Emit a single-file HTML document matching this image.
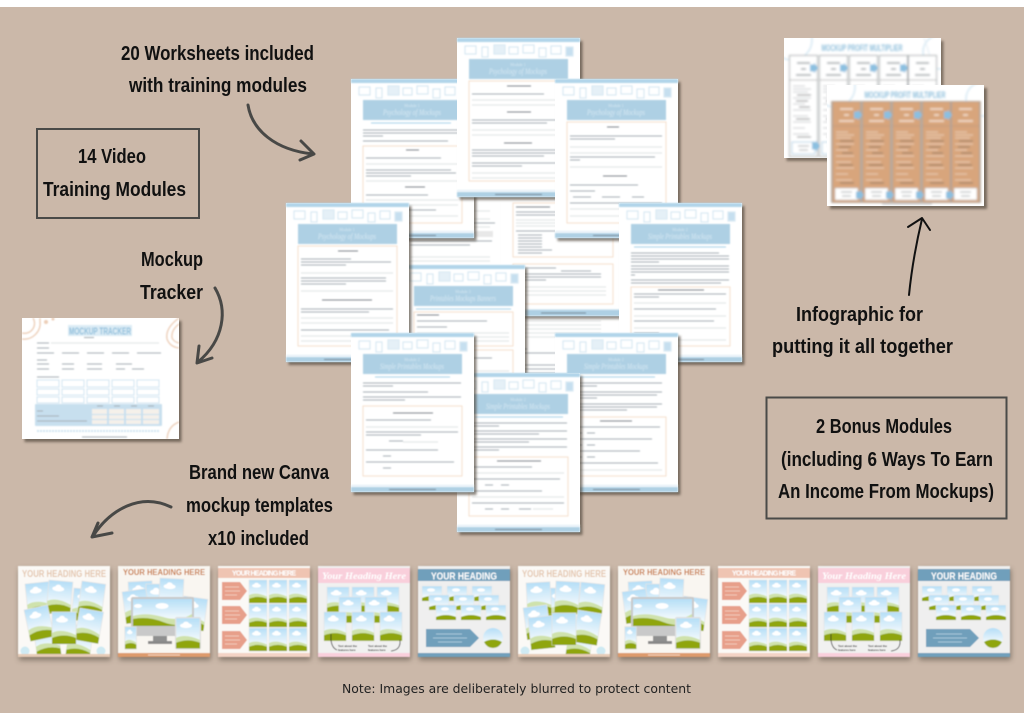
<!DOCTYPE html>
<html lang="en"><head><meta charset="utf-8"><title>Mockup course contents</title>
<style>
html,body{margin:0;padding:0;background:#fff}
svg{display:block}
.hw{font-family:"Liberation Sans",sans-serif;font-weight:700;font-size:20px;fill:#111}
.t{stroke:#a3acb2;stroke-width:1;fill:none}
.r{stroke:#dfe2e3;stroke-width:.9;fill:none}
.k{stroke:#7d848a;stroke-width:1.1;fill:none}
.u{stroke:#a6d1ea;stroke-width:1;fill:none}
.b{fill:none;stroke:#f5dfcc;stroke-width:1}
.hd{font-family:"Liberation Sans",sans-serif;font-weight:700}
</style></head><body>
<svg width="1024" height="720" viewBox="0 0 1024 720" xmlns="http://www.w3.org/2000/svg">
<defs>
<filter id="b" x="-5%" y="-5%" width="110%" height="110%"><feGaussianBlur stdDeviation=".7"/></filter>
<filter id="b1" x="-10%" y="-10%" width="120%" height="120%"><feGaussianBlur stdDeviation=".45"/></filter>
<filter id="b2" x="-10%" y="-10%" width="120%" height="120%"><feGaussianBlur stdDeviation="1.3"/></filter>
<filter id="b3" x="-15%" y="-15%" width="130%" height="130%"><feGaussianBlur stdDeviation="2.6"/></filter>
<filter id="b4" x="-5%" y="-5%" width="110%" height="110%"><feGaussianBlur stdDeviation="1"/></filter>
<clipPath id="cl1"><rect width="157" height="120"/></clipPath>
<clipPath id="cl2"><rect width="157" height="121"/></clipPath>
<clipPath id="cl3"><rect width="92" height="91"/></clipPath>
<linearGradient id="sky" x1="0" y1="0" x2="0" y2="1"><stop offset="0" stop-color="#b5def7"/><stop offset=".72" stop-color="#f2f9fc"/></linearGradient>

<g id="s">
<rect x="2.5" y="3" width="123" height="159" fill="#4a4036" opacity=".65" filter="url(#b2)"/>
<rect width="123" height="159" fill="#fff"/>
<g filter="url(#b)">
<rect width="123" height="4" fill="#b0d4e9"/>
<g fill="none" stroke="#d9e9f3" stroke-width="1.2">
<rect x="8" y="8" width="11" height="8"/><rect x="25" y="9" width="6" height="10"/><rect x="37" y="7" width="11" height="9" fill="#e5f0f7"/><rect x="52" y="9" width="9" height="7"/><rect x="66" y="7" width="11" height="8"/><rect x="82" y="10" width="7" height="9"/><rect x="94" y="8" width="10" height="8"/><rect x="109" y="9" width="7" height="9" fill="#c6dfef"/>
</g>
<rect x="12" y="21" width="99" height="20" fill="#aed0e4"/>
<rect y="152" width="123" height="1" fill="#dcebf4"/>
<rect y="154" width="123" height="5" fill="#aed0e4"/>
<path d="M38 156.5h47" stroke="#6d7c87" stroke-width="1.1"/>
</g>
</g>
<g id="hp" filter="url(#b)" text-anchor="middle" fill="#d8e9f3"><text x="61" y="28" font-size="4" font-family="Liberation Serif">Module 1</text><text x="61" y="36" font-size="8" font-style="italic" font-family="Liberation Serif" textLength="58" lengthAdjust="spacingAndGlyphs">Psychology of Mockups</text></g>
<g id="hs" filter="url(#b)" text-anchor="middle" fill="#d8e9f3"><text x="61" y="28" font-size="4" font-family="Liberation Serif">Module 2</text><text x="61" y="36" font-size="8" font-style="italic" font-family="Liberation Serif" textLength="64" lengthAdjust="spacingAndGlyphs">Simple Printables Mockups</text></g>
<g id="hf" filter="url(#b)" text-anchor="middle" fill="#d8e9f3"><text x="61" y="28" font-size="4" font-family="Liberation Serif">Module 3</text><text x="61" y="36" font-size="8" font-style="italic" font-family="Liberation Serif" textLength="66" lengthAdjust="spacingAndGlyphs">Printables Mockups Banners</text></g>

<g id="p"><rect width="24" height="32" fill="url(#sky)" stroke="#e4e4e4" stroke-width=".7"/><g fill="#fff"><ellipse cx="10" cy="8" rx="6" ry="2.6"/><ellipse cx="10" cy="6.2" rx="3" ry="2.4"/></g><path d="M0 21Q9 16 24 23V32H0Z" fill="#cfe2ac"/><path d="M0 26Q12 21 24 26V32H0Z" fill="#8fa50a"/></g>
<g id="q"><rect width="20" height="15" fill="url(#sky)" stroke="#e8e8e8" stroke-width=".6"/><g fill="#fff"><ellipse cx="9" cy="4" rx="4" ry="1.8"/></g><path d="M0 12Q10 8 20 12V15H0Z" fill="#8fa50a"/></g>

<g id="T1" clip-path="url(#cl3)"><rect width="92" height="91" fill="#fbf9f6"/>
<text x="46" y="11" class="hd" font-size="10" text-anchor="middle" fill="#e4c7b0" textLength="84" lengthAdjust="spacingAndGlyphs">YOUR HEADING HERE</text>
<use href="#p" transform="translate(56,22) rotate(5)"/><use href="#p" transform="translate(15,60) rotate(-8)"/><use href="#p" transform="translate(52,58) rotate(8)"/>
<use href="#p" transform="translate(7,18) rotate(-6)"/><use href="#p" transform="translate(31,14) rotate(5)"/><use href="#p" transform="translate(64,15) rotate(8)"/>
<use href="#p" transform="translate(6,44) rotate(-12)"/><use href="#p" transform="translate(62,42) rotate(10)"/><use href="#p" transform="translate(34,46)"/>
<circle cx="7" cy="85" r="4.5" fill="#cfeaf3"/><circle cx="83" cy="85" r="4.5" fill="#cfeaf3"/>
<rect y="88" width="92" height="3" fill="#e6cbb6"/></g>

<g id="T6" clip-path="url(#cl3)"><rect width="92" height="91" fill="#fbf9f6"/>
<text x="46" y="11" class="hd" font-size="10" text-anchor="middle" fill="#e4c7b0" textLength="84" lengthAdjust="spacingAndGlyphs">YOUR HEADING HERE</text>
<use href="#p" transform="translate(52,58) rotate(8)"/><use href="#p" transform="translate(30,22)"/>
<use href="#p" transform="translate(8,17) rotate(-3)"/><use href="#p" transform="translate(38,15) rotate(3)"/><use href="#p" transform="translate(63,16) rotate(6)"/>
<use href="#p" transform="translate(5,42) rotate(-8)"/><use href="#p" transform="translate(10,52) rotate(-6)"/><use href="#p" transform="translate(60,44) rotate(9)"/><use href="#p" transform="translate(34,47)"/>
<circle cx="7" cy="85" r="4.5" fill="#cfeaf3"/><circle cx="83" cy="85" r="4.5" fill="#cfeaf3"/>
<rect y="88" width="92" height="3" fill="#e6cbb6"/></g>

<g id="T2" clip-path="url(#cl3)"><rect width="92" height="91" fill="#f9f6f1"/>
<text x="46" y="9" class="hd" font-size="8" text-anchor="middle" fill="#c97c45" textLength="82" lengthAdjust="spacingAndGlyphs">YOUR HEADING HERE</text>
<use href="#p" transform="translate(10,16) rotate(-3)"/><use href="#p" transform="translate(28,18) rotate(0)"/><use href="#p" transform="translate(42,12) rotate(3)"/><use href="#p" transform="translate(4,26) rotate(-8)"/><use href="#p" transform="translate(66,30) rotate(8)"/>
<rect x="35" y="68" width="14" height="9" fill="#8f8f8f"/><rect x="30" y="75" width="24" height="3" fill="#888"/>
<rect x="13" y="31" width="63" height="39" rx="2" fill="#c9c9c9"/><rect x="15" y="33" width="59" height="27" fill="url(#sky)"/>
<g fill="#fff"><ellipse cx="44" cy="40" rx="6.5" ry="3"/><ellipse cx="20" cy="40" rx="4" ry="2"/></g>
<path d="M15 50Q28 46 45 51T74 48V60H15Z" fill="#cfe2ac"/><path d="M15 53Q30 50 45 56T74 56V60H15Z" fill="#8fa50a"/>
<g transform="translate(58,52) scale(1,.95)"><rect x="-1" y="-1" width="26" height="34" rx="2" fill="#ddd"/><use href="#p"/></g>
<g transform="translate(7,61) scale(.47,.68)"><rect x="-1" y="-1" width="26" height="34" fill="#ddd"/><use href="#p"/></g>
<rect y="87" width="92" height="4" fill="#dd9a6c"/><path d="M30 89h32" stroke="#fbeadc" stroke-width=".7"/></g>

<g id="T3"><rect width="92" height="91" fill="#fbf9f6"/><rect width="92" height="10" y="2" fill="#efc4b2"/>
<text x="46" y="9.5" class="hd" font-size="7" text-anchor="middle" fill="#fff" textLength="64" lengthAdjust="spacing">YOUR HEADING HERE</text>
<g fill="#e79f8a"><path d="M4 16H22L29 25 22 34H4Z"/><path d="M4 40H22L29 49 22 58H4Z"/><path d="M4 65H22L29 74 22 83H4Z"/></g>
<path d="M7 21h14M7 25h15M7 29h12M7 45h14M7 49h15M7 53h12M7 70h14M7 74h15M7 78h12" stroke="#f3c9ba" stroke-width=".9"/>
<use href="#p" transform="translate(31,14) scale(.75,.72)"/><use href="#p" transform="translate(51,14) scale(.75,.72)"/><use href="#p" transform="translate(71,14) scale(.75,.72)"/>
<use href="#p" transform="translate(31,38) scale(.75,.72)"/><use href="#p" transform="translate(51,38) scale(.75,.72)"/><use href="#p" transform="translate(71,38) scale(.75,.72)"/>
<use href="#p" transform="translate(31,62) scale(.75,.72)"/><use href="#p" transform="translate(51,62) scale(.75,.72)"/><use href="#p" transform="translate(71,62) scale(.75,.72)"/>
<rect y="87" width="92" height="4" fill="#f3d3c5"/></g>

<g id="T4"><rect width="92" height="91" fill="#f1f1f0"/><rect y="2" width="92" height="15" fill="#f9cfdb"/>
<text x="46" y="13" font-family="Liberation Serif" font-style="italic" font-weight="700" font-size="9.5" text-anchor="middle" fill="#fff" textLength="84" lengthAdjust="spacingAndGlyphs">Your Heading Here</text>
<use href="#p" transform="translate(9,21) scale(.92,.8)"/><use href="#p" transform="translate(34,21) scale(.92,.8)"/><use href="#p" transform="translate(59,21) scale(.92,.8)"/>
<use href="#p" transform="translate(21,31) scale(.92,.8)"/><use href="#p" transform="translate(47,31) scale(.92,.8)"/>
<use href="#p" transform="translate(6,46) scale(.92,.9)"/><use href="#p" transform="translate(34,46) scale(.92,.9)"/><use href="#p" transform="translate(62,46) scale(.92,.9)"/>
<g class="hd" font-size="2.8" fill="#333"><text x="20" y="81">Text about the</text><text x="20" y="85">features here</text><text x="50" y="81">Text about the</text><text x="50" y="85">features here</text></g>
<path d="M13 68Q12 81 19 84M82 74Q83 84 73 85" fill="none" stroke="#222" stroke-width=".8"/>
<rect y="87" width="92" height="4" fill="#f9cfdb"/></g>

<g id="T5"><rect width="92" height="91" fill="#efefef"/><rect y="3" width="92" height="12" fill="#6f9fbb"/>
<text x="46" y="13.5" class="hd" font-size="10.5" text-anchor="middle" fill="#fff" textLength="66" lengthAdjust="spacingAndGlyphs">YOUR HEADING</text>
<use href="#q" transform="translate(4,20)"/><use href="#q" transform="translate(29,20)"/><use href="#q" transform="translate(54,20)"/>
<use href="#q" transform="translate(11,29)"/><use href="#q" transform="translate(36,29)"/><use href="#q" transform="translate(61,29)"/>
<use href="#q" transform="translate(18,39)"/><use href="#q" transform="translate(43,39)"/><use href="#q" transform="translate(68,39)"/>
<path d="M8 63H52L61 72 52 81H8Z" fill="#6f9fbb"/><path d="M18 68h26M15 72h34M20 76h24" stroke="#a9c8da" stroke-width=".9"/>
<circle cx="75" cy="72" r="10" fill="url(#sky)"/><path d="M66 76Q75 71 84 76Q81 82 75 82Q69 82 66 76Z" fill="#8fa50a"/>
<rect y="87" width="92" height="4" fill="#6f9fbb"/></g>

<g id="cf"><rect x="-.5" y="-.5" width="28" height="101" fill="#d8a57c" stroke="#b0a398"/>
<path d="M7 7h13M11 13h5M6 19h15" stroke="#f6e6d8" stroke-width="1.6"/><path d="M0 24h27" stroke="#c59a7a"/>
<path d="M3 30h12M3 33h18M3 36h15M3 42h18M3 48h12M3 54h18M3 60h15M3 66h18M3 72h12M3 78h16" stroke="#ecd0b9" stroke-width="1.1"/>
<path d="M7 39h14M6 45h12M9 51h11M6 63h14M7 81h14" stroke="#8a7767" stroke-width="1"/>
<rect x="2" y="86" width="23" height="12" fill="#fff" stroke="#bbb" stroke-width=".6"/><path d="M8 90h11M9 94h9" stroke="#9da2a5" stroke-width="1"/></g>
<g id="cb"><rect x="-.5" y="-.5" width="28" height="101" fill="#fff" stroke="#a9adaf"/>
<path d="M7 7h13M11 13h5M6 19h15" stroke="#9aa0a4" stroke-width="1.4"/><path d="M0 24h27" stroke="#bbb"/>
<path d="M3 30h12M3 33h18M3 36h15M3 42h18M3 48h12M3 54h18M3 60h15M3 66h18M3 72h12M3 78h16" stroke="#c9ccce" stroke-width="1"/>
<path d="M7 39h14M6 45h12M9 51h11M6 63h14M7 81h14" stroke="#62666a" stroke-width="1"/>
<rect x="2" y="86" width="23" height="12" fill="#fff" stroke="#9fc6df" stroke-width=".8"/><path d="M8 90h11M9 94h9" stroke="#9da2a5" stroke-width="1"/></g>
<path id="arr" d="M0-3.5h4V-5.5L8 0 4 5.5V3.5H0Z" fill="#8bbfe0"/>
</defs>

<rect width="1024" height="720" fill="#fff"/>
<rect y="7" width="1024" height="706" fill="#cbb8a9"/>

<!-- back sheets -->
<g transform="translate(501,315)"><rect x="2" y="2" width="123" height="80" fill="#4a4036" opacity=".5" filter="url(#b2)"/><rect width="123" height="80" fill="#fff"/>
<g filter="url(#b)"><path class="r" d="M12 6h88M12 10h88M12 14h88M12 18h88M12 22h88"/><path class="t" d="M12 34h14M12 38h60M12 46h12M12 50h85M12 54h85M12 58h60M12 62h80M12 66h85"/></g></g>
<g transform="translate(380,157)"><rect x="2" y="2" width="123" height="159" fill="#4a4036" opacity=".5" filter="url(#b2)"/><rect width="123" height="159" fill="#fff"/>
<g filter="url(#b)"><path class="r" d="M30 54h80M30 62h80M30 70h80"/><path class="t" d="M30 58h40M70 66h45"/><rect x="28" y="74" width="85" height="6" fill="#e8e8e8"/><path class="r" d="M30 100h80M30 104h80"/><path class="t" d="M30 84h82M30 88h60"/></g></g>
<g transform="translate(501,157)"><rect x="2.5" y="3" width="123" height="159" fill="#4a4036" opacity=".6" filter="url(#b2)"/><rect width="123" height="159" fill="#fff"/>
<g filter="url(#b)"><rect y="152" width="123" height="1" fill="#dcebf4"/><rect y="153" width="123" height="6" fill="#aed0e4"/><path d="M40 156h45" stroke="#6d7c87" stroke-width="1.1"/>
<rect class="b" x="12" y="46" width="100" height="54"/><rect class="b" x="12" y="107" width="100" height="40"/>
<path class="k" d="M15 50h34"/><path class="t" d="M15 55h55M15 58h40M15 74h40M17 78h24M17 81h24M17 84h24M17 87h24M17 90h24M17 93h34M17 96h24M15 111h40M60 114h30M15 117h85M15 120h85M15 123h30"/><path class="r" d="M15 63h90M15 66h90M15 69h90M15 130h90M15 134h90M15 138h90"/></g></g>

<!-- sheet F -->
<g transform="translate(402,265)"><use href="#s"/><use href="#hf"/><g filter="url(#b)"><path class="u" d="M14 44h95"/><rect class="b" x="12" y="47" width="99" height="34"/><rect class="b" x="12" y="85" width="99" height="40"/><path class="k" d="M15 50h22"/><path class="t" d="M15 56h70M15 62h30M15 93h75M15 99h55"/><path class="r" d="M15 68h92M15 72h92M15 76h92M15 106h92M15 112h92"/></g></g>
<!-- sheet B -->
<g transform="translate(351,79)"><use href="#s"/><use href="#hp"/><g filter="url(#b)"><path class="u" d="M20 44h80"/><path class="t" d="M12 51h95M12 54h95M12 57h20M12 62h85"/><rect class="b" x="12" y="67" width="99" height="77"/><path class="k" d="M55 71h13M54 108h20"/><path class="t" d="M15 79h75M15 91h85M15 94h90M15 97h45M15 116h62M25 131h60"/><path class="r" d="M15 85h92M15 102h92M15 121h92M15 126h92M15 137h92"/></g></g>
<!-- sheet A -->
<g transform="translate(457,38)"><use href="#s"/><use href="#hp"/><g filter="url(#b)"><rect class="b" x="12" y="43" width="99" height="100"/><path class="k" d="M50 48h24M50 74h24M47 105h28"/><path class="t" d="M15 56h72M15 82h92M15 85h75M15 112h92M15 115h90M15 118h72M15 125h92M15 128h50"/><path class="r" d="M15 62h92M15 67h92M15 92h92M15 97h92M15 135h92M15 140h92"/></g></g>
<!-- sheet C -->
<g transform="translate(555,79)"><use href="#s"/><use href="#hp"/><g filter="url(#b)"><rect class="b" x="12" y="43" width="99" height="101"/><path class="k" d="M52 48h12M48 97h24"/><path class="t" d="M15 57h92M15 60h45M15 78h85M15 81h10M15 106h68M15 112h25M18 118h18M47 118h18M77 118h12M15 124h92"/><path class="r" d="M15 68h92M15 74h92M15 88h92M15 130h92M15 137h92"/></g></g>
<!-- sheet E -->
<g transform="translate(619,203)"><use href="#s"/><use href="#hs"/><g filter="url(#b)"><path class="u" d="M15 44h92"/><path class="t" d="M12 50h88M12 53h98M12 56h98M12 59h28M12 63h98M12 66h98M12 69h98M12 72h4M12 77h98M12 80h90"/><rect class="b" x="12" y="84" width="99" height="59"/><path class="k" d="M39 87h46"/><path class="t" d="M15 91h92M15 94h25M15 106h82M15 118h80M15 130h25"/><path class="r" d="M15 100h92M15 113h92M15 125h92M15 137h92"/></g></g>
<!-- sheet D -->
<g transform="translate(286,203)"><use href="#s"/><use href="#hp"/><g filter="url(#b)"><rect class="b" x="12" y="43" width="99" height="100"/><path class="k" d="M52 48h20M36 97h50"/><path class="t" d="M15 56h50M15 59h90M15 62h45M15 75h85M15 78h85M15 81h45M15 106h92M15 109h68M15 127h88"/><path class="r" d="M15 70h92M15 88h92M15 115h92M15 120h92M15 133h92M15 138h92"/></g></g>
<!-- sheet H -->
<g transform="translate(555,333)"><use href="#s"/><use href="#hs"/><g filter="url(#b)"><path class="u" d="M15 44h85"/><path class="t" d="M12 50h95M12 53h30M12 59h95M12 62h90M12 65h30M12 71h95M12 74h90M12 77h60"/><rect class="b" x="12" y="84" width="99" height="59"/><path class="k" d="M45 88h32"/><path class="t" d="M15 94h90M15 106h82M15 118h70M15 130h88M19 100h8M32 100h8M19 112h8M32 112h8M19 124h8M32 124h8"/><path class="r" d="M15 137h92"/></g></g>
<!-- sheet K -->
<g transform="translate(457,373)"><use href="#s"/><use href="#hs"/><g filter="url(#b)"><path class="u" d="M18 44h88"/><path class="t" d="M12 50h98M12 53h30M12 58h98M12 61h70M12 66h98M12 69h60M12 74h98M12 77h30"/><rect class="b" x="12" y="84" width="99" height="59"/><path class="k" d="M40 88h44"/><path class="t" d="M15 94h60M15 106h88M15 118h70M15 130h92M28 112h8M44 112h8M28 136h8M44 136h8M62 136h12"/><path class="r" d="M15 100h92M15 124h92M76 136h20"/></g></g>
<!-- sheet G -->
<g transform="translate(351,333)"><use href="#s"/><use href="#hs"/><g filter="url(#b)"><path class="u" d="M24 44h75"/><path class="t" d="M12 50h98M12 53h30M12 59h65M12 64h98M12 67h42"/><rect class="b" x="12" y="73" width="99" height="70"/><path class="k" d="M42 80h40"/><path class="t" d="M15 87h65M15 99h92M15 102h55M38 108h14M15 117h72M32 123h8M15 129h88M32 135h8"/><path class="r" d="M15 94h92M52 109h35"/></g></g>

<!-- infographic back -->
<g transform="translate(784,38)"><rect x="2.5" y="3" width="157" height="120" fill="#4a4036" opacity=".6" filter="url(#b2)"/><rect width="157" height="120" fill="#fff"/>
<g clip-path="url(#cl1)"><g filter="url(#b4)"><circle cx="8" cy="2" r="20" fill="none" stroke="#d5e8f3" stroke-width="1.5"/><circle cx="156" cy="14" r="17" fill="none" stroke="#d5e8f3" stroke-width="1.5"/><path d="M140 0Q155 40 157 90" fill="none" stroke="#e2edf4"/>
<text x="78" y="13" class="hd" font-size="9.5" text-anchor="middle" fill="#8dbedb" textLength="81" lengthAdjust="spacingAndGlyphs">MOCKUP PROFIT MULTIPLIER</text>
<use href="#cb" x="6" y="18"/><use href="#cb" x="36" y="18"/><use href="#cb" x="66" y="18"/><use href="#cb" x="96" y="18"/><use href="#cb" x="125" y="18"/>
<use href="#arr" x="26" y="30"/><use href="#arr" x="56" y="30"/><use href="#arr" x="86" y="30"/><use href="#arr" x="116" y="30"/><use href="#arr" x="28" y="108"/></g></g></g>
<!-- infographic front -->
<g transform="translate(827,85)"><rect x="3" y="3" width="157" height="121" fill="#4a4036" opacity=".65" filter="url(#b2)"/><rect width="157" height="121" fill="#fff"/>
<g clip-path="url(#cl2)"><g filter="url(#b4)"><circle cx="8" cy="2" r="20" fill="none" stroke="#d5e8f3" stroke-width="1.5"/><circle cx="156" cy="14" r="17" fill="none" stroke="#d5e8f3" stroke-width="1.5"/>
<text x="78" y="13" class="hd" font-size="9.5" text-anchor="middle" fill="#8dbedb" textLength="81" lengthAdjust="spacingAndGlyphs">MOCKUP PROFIT MULTIPLIER</text>
<rect x="4" y="16" width="150" height="102" fill="#bdb0a3"/>
<use href="#cf" x="6" y="17"/><use href="#cf" x="36" y="17"/><use href="#cf" x="66" y="17"/><use href="#cf" x="96" y="17"/><use href="#cf" x="125" y="17"/>
<use href="#arr" x="27" y="30"/><use href="#arr" x="57" y="30"/><use href="#arr" x="87" y="30"/><use href="#arr" x="117" y="30"/>
<use href="#arr" x="29" y="110"/><use href="#arr" x="59" y="110"/><use href="#arr" x="89" y="110"/><use href="#arr" x="119" y="110"/>
<path d="M55 119h50" stroke="#9aa0a4" stroke-width=".8"/></g></g></g>

<!-- tracker -->
<g transform="translate(22,318)"><rect x="2.5" y="3" width="157" height="121" fill="#4a4036" opacity=".65" filter="url(#b2)"/><rect width="157" height="121" fill="#fff"/>
<g clip-path="url(#cl2)"><g filter="url(#b)">
<g fill="none" stroke="#eccdb6" stroke-width="1.3"><path d="M0 21A16 16 0 0 0 18 3V0"/><path d="M0 15A10 10 0 0 0 11 0"/><path d="M157 0Q143 10 145 21 148 29 157 30"/><path d="M157 6Q149 12 150 20 152 24 157 25"/><path d="M157 104Q146 108 145 121"/></g>
<circle cx="24" cy="4" r="2" fill="#eccdb6"/><circle cx="31" cy="1" r="1.5" fill="#eccdb6"/>
<rect x="46" y="7" width="64" height="11" fill="#dcecf5"/>
<text x="78" y="16.5" class="hd" font-size="10" text-anchor="middle" fill="#8dbedb" textLength="62" lengthAdjust="spacingAndGlyphs">MOCKUP TRACKER</text>
<path class="t" d="M62 19.5h10M15 25h12M15 30h12M15 35h17M40 35h17M65 35h17M90 35h17M115 35h24M15 42h10M15 46h12M40 46h12M65 46h15M94 46h16M15 51h12M40 51h12M65 51h15M94 51h9M110 51h12M15 59h22M60 119h45"/>
<path class="r" d="M29 25h108"/>
<g fill="none" stroke="#d3e6f2" stroke-width="1"><path d="M15 62h22v7h-22zM40 62h22v7h-22zM65 62h22v7h-22zM90 62h22v7h-22zM115 62h22v7h-22zM15 71h22v6h-22zM40 71h22v6h-22zM65 71h22v6h-22zM90 71h22v6h-22zM115 71h22v6h-22zM15 79h22v6h-22zM40 79h22v6h-22zM65 79h22v6h-22zM90 79h22v6h-22zM115 79h22v6h-22z"/></g>
<rect x="13" y="86" width="127" height="22" rx="1" fill="#c7dfee"/>
<g fill="#f5f1ea"><rect x="70" y="91" width="15" height="5"/><rect x="87" y="91" width="15" height="5"/><rect x="104" y="91" width="15" height="5"/><rect x="121" y="91" width="16" height="5"/><rect x="70" y="97" width="15" height="4"/><rect x="87" y="97" width="15" height="4"/><rect x="104" y="97" width="15" height="4"/><rect x="121" y="97" width="16" height="4"/><rect x="70" y="102" width="15" height="4"/><rect x="87" y="102" width="15" height="4"/><rect x="104" y="102" width="15" height="4"/><rect x="121" y="102" width="16" height="4"/></g>
<path class="t" d="M15 93h6M15 98h22M15 103h50M75 88h6M92 88h6M109 88h6M126 88h6"/>
<path d="M15 113h122" stroke="#cfe4f1" stroke-width="2" stroke-dasharray="2 1"/></g></g></g>

<!-- thumbnails row -->
<g fill="#4a4036" opacity=".55" filter="url(#b3)"><rect x="19" y="569" width="92" height="91"/><rect x="119" y="569" width="92" height="91"/><rect x="219" y="569" width="92" height="91"/><rect x="319" y="569" width="92" height="91"/><rect x="419" y="569" width="92" height="91"/><rect x="519" y="569" width="92" height="91"/><rect x="619" y="569" width="92" height="91"/><rect x="719" y="569" width="92" height="91"/><rect x="819" y="569" width="92" height="91"/><rect x="919" y="569" width="92" height="91"/></g>
<g filter="url(#b1)">
<use href="#T1" x="18" y="566"/><use href="#T2" x="118" y="566"/><use href="#T3" x="218" y="566"/><use href="#T4" x="318" y="566"/><use href="#T5" x="418" y="566"/>
<use href="#T6" x="518" y="566"/><use href="#T2" x="618" y="566"/><use href="#T3" x="718" y="566"/><use href="#T4" x="818" y="566"/><use href="#T5" x="918" y="566"/>
</g>

<!-- boxes -->
<g fill="none" stroke="#4a4a48" stroke-width="2"><rect x="37" y="129" width="162" height="89"/><rect x="766.5" y="397.5" width="240" height="121"/></g>

<!-- arrows -->
<g fill="none" stroke="#484846" stroke-width="3" stroke-linecap="round" stroke-linejoin="round">
<path d="M248 105C252 130 275 150 313 154"/><path d="M301 141L314 154 300 160"/>
<path d="M215 288C228 310 224 340 198 362"/><path d="M199 346L197 363 212 358"/>
<path d="M171 507C140 492 110 510 93 536"/><path d="M98 523L92 537 112 533"/>
</g>
<g fill="none" stroke="#111" stroke-width="2" stroke-linecap="round" stroke-linejoin="round"><path d="M909 295C912 265 917 240 922 219"/><path d="M908 227L922 218 930 230"/></g>

<!-- labels -->
<g class="hw">
<text x="121" y="60" textLength="193" lengthAdjust="spacingAndGlyphs">20 Worksheets included</text>
<text x="129" y="92" textLength="178" lengthAdjust="spacingAndGlyphs">with training modules</text>
<text x="78" y="163" textLength="68" lengthAdjust="spacingAndGlyphs">14 Video</text>
<text x="43" y="196" textLength="143" lengthAdjust="spacingAndGlyphs">Training Modules</text>
<text x="141" y="266" textLength="62" lengthAdjust="spacingAndGlyphs">Mockup</text>
<text x="140" y="299" textLength="63" lengthAdjust="spacingAndGlyphs">Tracker</text>
<text x="796" y="321" textLength="127" lengthAdjust="spacingAndGlyphs">Infographic for</text>
<text x="772" y="353" textLength="181" lengthAdjust="spacingAndGlyphs">putting it all together</text>
<text x="816" y="433" textLength="136" lengthAdjust="spacingAndGlyphs">2 Bonus Modules</text>
<text x="781" y="466" textLength="212" lengthAdjust="spacingAndGlyphs">(including 6 Ways To Earn</text>
<text x="778" y="498" textLength="216" lengthAdjust="spacingAndGlyphs">An Income From Mockups)</text>
<text x="189" y="479" textLength="140" lengthAdjust="spacingAndGlyphs">Brand new Canva</text>
<text x="186" y="512" textLength="147" lengthAdjust="spacingAndGlyphs">mockup templates</text>
<text x="208" y="545" textLength="101" lengthAdjust="spacingAndGlyphs">x10 included</text>
</g>
<text x="342" y="693" font-family="DejaVu Sans, sans-serif" font-size="12" fill="#222" textLength="349" lengthAdjust="spacingAndGlyphs">Note: Images are deliberately blurred to protect content</text>
</svg>
</body></html>
